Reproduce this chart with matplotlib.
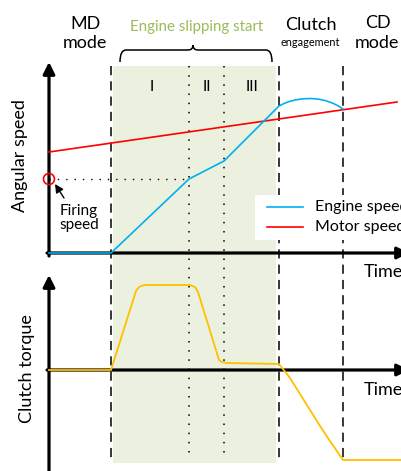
import matplotlib
matplotlib.use("Agg")
import matplotlib.pyplot as plt
from matplotlib.patches import Rectangle, Circle, PathPatch
from matplotlib.path import Path

plt.rcParams['font.family'] = ['Lato', 'DejaVu Sans']

# ---- schematic data (figure-space units: x = time, y = level, downwards) ----
phase_bounds = [111, 279, 343]          # dashed boundaries
sub_bounds = [189, 224]                 # dotted boundaries
shade_range = [113, 276]

speed_axis_y = 253
torque_axis_y = 370
axis_x = 49

motor_t = [49, 397]
motor_speed = [152, 102]

engine_t = [49, 111, 189, 224, 279, 284, 290, 296, 303, 311, 319, 326, 333, 338, 343]
engine_speed = [253, 253, 179, 161, 106, 103.5, 101.3, 99.8, 98.8, 98.5, 99.2, 100.8, 103.3, 105.8, 109]

torque_t = [49, 111, 136, 139, 144, 190, 195, 198, 219, 222, 227, 279, 290, 300, 310, 320, 330, 343, 401]
clutch_torque = [370, 370, 291, 287, 285, 285, 287, 292, 360, 362, 363, 364, 378, 394, 410, 426, 441, 460, 460]

firing_t = [49, 189]
firing_speed = 179

phase_labels = ["I", "II", "III"]
phase_label_x = [152, 207, 252]

blue = "#00b0f0"
red = "#ff0000"
orange = "#ffc000"
green_txt = "#9bbb59"
shade = "#ebf1de"

fig = plt.figure(figsize=(4.01, 4.71), dpi=100)
ax = fig.add_axes([0, 0, 1, 1])
ax.set_xlim(0, 401)
ax.set_ylim(471, 0)
ax.axis("off")

# shading
ax.add_patch(Rectangle((shade_range[0], 66), shade_range[1] - shade_range[0], 397,
                       facecolor=shade, edgecolor="none", zorder=0))

# dashed / dotted lines
for x in phase_bounds:
    ax.plot([x, x], [66, 463], color="black", lw=1.1, ls=(0, (6, 4)), zorder=1)
for x in sub_bounds:
    ax.plot([x, x], [66, 458], color="black", lw=1.1, ls=(0, (1, 5)), zorder=1)

# axes with arrows
def arrow(x0, y0, x1, y1):
    ax.annotate("", xy=(x1, y1), xytext=(x0, y0), annotation_clip=False,
                arrowprops=dict(arrowstyle="-|>,head_length=0.7,head_width=0.35",
                                color="black", lw=2.3, shrinkA=0, shrinkB=0),
                zorder=4)

arrow(axis_x, 256, axis_x, 62)
arrow(axis_x, 475, axis_x, 275)
arrow(axis_x - 2, speed_axis_y, 409, speed_axis_y)
arrow(axis_x - 2, torque_axis_y, 409, torque_axis_y)

# curves
ax.plot(motor_t, motor_speed, color=red, lw=1.2, zorder=5)
ax.plot(engine_t, engine_speed, color=blue, lw=1.2, zorder=5)
ax.plot(torque_t, clutch_torque, color=orange, lw=1.3, zorder=5)

# firing speed
ax.plot(firing_t, [firing_speed, firing_speed], color="black", lw=1.0,
        ls=(0, (1, 5)), zorder=3)
ax.add_patch(Circle((axis_x, firing_speed), 5.5, facecolor="none",
                    edgecolor=red, lw=1.2, zorder=6))
ax.annotate("", xy=(55, 184), xytext=(64, 198),
            arrowprops=dict(arrowstyle="-|>,head_length=0.5,head_width=0.25",
                            color="black", lw=1.0, shrinkA=0, shrinkB=0), zorder=6)
ax.text(79, 218, "Firing\nspeed", ha="center", va="center", fontsize=11,
        linespacing=1.0)

# legend box
ax.add_patch(Rectangle((255, 195), 150, 45, facecolor="white", edgecolor="none", zorder=7))
ax.plot([267, 303], [207, 207], color=blue, lw=1.2, zorder=8)
ax.plot([267, 303], [227, 227], color=red, lw=1.2, zorder=8)
ax.text(315, 207, "Engine speed", va="center", ha="left", fontsize=11.5, zorder=8)
ax.text(315, 227, "Motor speed", va="center", ha="left", fontsize=11.5, zorder=8)

# phase labels
for lbl, x in zip(phase_labels, phase_label_x):
    ax.text(x, 87, lbl, ha="center", va="center", fontsize=11)

# brace
verts = [(120, 62), (120, 50), (126, 50), (188, 50), (193, 50), (193, 45),
         (193, 50), (198, 50), (266, 50), (272, 50), (272, 62)]
codes = [Path.MOVETO, Path.CURVE3, Path.CURVE3, Path.LINETO, Path.CURVE3, Path.CURVE3,
         Path.CURVE3, Path.CURVE3, Path.LINETO, Path.CURVE3, Path.CURVE3]
ax.add_patch(PathPatch(Path(verts, codes), facecolor="none", edgecolor="black", lw=1.1))

# header texts
ax.text(85, 24, "MD", ha="center", va="center", fontsize=13)
ax.text(85, 43, "mode", ha="center", va="center", fontsize=13)
ax.text(197, 27, "Engine slipping start", ha="center", va="center", fontsize=10.8,
        color=green_txt)
ax.text(311, 25, "Clutch", ha="center", va="center", fontsize=13)
ax.text(310, 43, "engagement", ha="center", va="center", fontsize=7.8)
ax.text(378, 23, "CD", ha="center", va="center", fontsize=13)
ax.text(355, 43, "mode", ha="left", va="center", fontsize=13)

ax.text(20, 156, "Angular speed", rotation=90, ha="center", va="center", fontsize=13)
ax.text(27, 369, "Clutch torque", rotation=90, ha="center", va="center", fontsize=13)
ax.text(364, 272, "Time", ha="left", va="center", fontsize=13)
ax.text(364, 390, "Time", ha="left", va="center", fontsize=13)

fig.savefig("out.png", dpi=100)
